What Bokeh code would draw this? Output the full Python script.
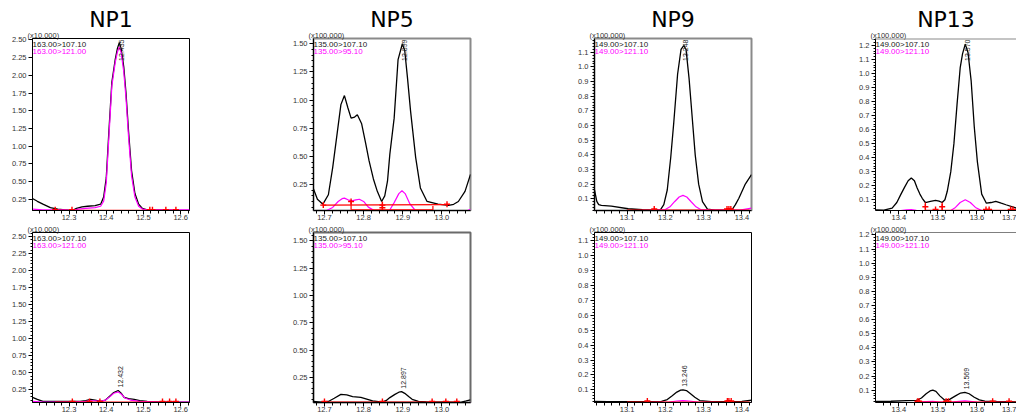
import math

from bokeh.core.properties import value
from bokeh.embed import file_html
from bokeh.layouts import gridplot
from bokeh.models import (NumeralTickFormatter, Range1d, SingleIntervalTicker,
                          Span, Title)
from bokeh.plotting import figure
from bokeh.resources import INLINE

# ---------------------------------------------------------------- samples
samples = ["NP1", "NP5", "NP9", "NP13"]
scale_texts = ["(x10,000)", "(x100,000)", "(x100,000)", "(x100,000)"]
quant_ions = ["163.00>107.10", "135.00>107.10", "149.00>107.10", "149.00>107.10"]
qual_ions = ["163.00>121.00", "135.00>95.10", "149.00>121.10", "149.00>121.10"]

# retention-time windows (min) and intensity windows
rt_windows = [(12.202, 12.6235), (12.672, 13.073), (13.015, 13.425), (13.3405, 13.701)]
int_windows_top = [(0.09, 2.52), (0.02, 1.547), (0.02, 1.194), (0.023, 1.25)]
int_windows_bottom = [(0.064, 2.56), (0.021, 1.576), (0.015, 1.156), (0.013, 1.217)]
int_steps = [0.25, 0.25, 0.1, 0.1]
int_formats = ["0.00", "0.00", "0.0", "0.0"]

# labelled peak retention times
peak_rt_top = [12.435, 12.899, 13.248, 13.570]
peak_rt_bottom = [12.432, 12.897, 13.246, 13.569]

# ---------------------------------------------------------------- NP1
np1_top_q_t = [12.202, 12.215, 12.230, 12.250, 12.270, 12.290, 12.309, 12.320, 12.335, 12.350,
               12.370, 12.385, 12.393, 12.400, 12.407, 12.415, 12.424, 12.430, 12.435, 12.440,
               12.447, 12.453, 12.460, 12.468, 12.477, 12.487, 12.497, 12.510, 12.530, 12.560,
               12.600, 12.624]
np1_top_q_i = [0.26, 0.22, 0.18, 0.13, 0.11, 0.10, 0.09, 0.12, 0.14, 0.15,
               0.16, 0.18, 0.28, 0.55, 1.20, 1.90, 2.22, 2.38, 2.46, 2.38,
               2.12, 1.75, 1.20, 0.65, 0.33, 0.18, 0.12, 0.10, 0.10, 0.10,
               0.09, 0.09]
np1_top_c_t = [12.202, 12.230, 12.260, 12.290, 12.309, 12.325, 12.345, 12.370, 12.385, 12.393,
               12.400, 12.407, 12.415, 12.424, 12.430, 12.435, 12.440, 12.447, 12.453, 12.460,
               12.468, 12.477, 12.487, 12.497, 12.510, 12.560, 12.624]
np1_top_c_i = [0.11, 0.10, 0.10, 0.10, 0.09, 0.11, 0.12, 0.13, 0.15, 0.22,
               0.48, 1.12, 1.85, 2.18, 2.33, 2.40, 2.32, 2.05, 1.68, 1.12,
               0.58, 0.28, 0.15, 0.11, 0.10, 0.10, 0.10]
np1_top_base_t = [12.263, 12.590]
np1_top_base_i = [0.092, 0.092]
np1_top_mark_t = [12.263, 12.308, 12.517, 12.524, 12.560, 12.587]
np1_top_mark_i = [0.10, 0.10, 0.10, 0.10, 0.10, 0.10]

np1_bot_q_t = [12.202, 12.215, 12.230, 12.260, 12.300, 12.330, 12.345, 12.358, 12.370, 12.385,
               12.398, 12.410, 12.420, 12.432, 12.440, 12.448, 12.460, 12.475, 12.490, 12.510,
               12.550, 12.600, 12.624]
np1_bot_q_i = [0.14, 0.11, 0.08, 0.08, 0.08, 0.08, 0.09, 0.11, 0.10, 0.08,
               0.10, 0.16, 0.21, 0.24, 0.20, 0.14, 0.12, 0.11, 0.09, 0.08,
               0.07, 0.07, 0.07]
np1_bot_c_t = [12.202, 12.230, 12.300, 12.345, 12.358, 12.372, 12.385, 12.398, 12.410, 12.420,
               12.432, 12.440, 12.450, 12.465, 12.490, 12.550, 12.624]
np1_bot_c_i = [0.08, 0.07, 0.07, 0.08, 0.09, 0.09, 0.08, 0.10, 0.15, 0.20,
               0.22, 0.19, 0.13, 0.10, 0.08, 0.07, 0.07]
np1_bot_base_t = [12.263, 12.590]
np1_bot_base_i = [0.07, 0.07]
np1_bot_mark_t = [12.309, 12.355, 12.383, 12.551, 12.570, 12.587]
np1_bot_mark_i = [0.08, 0.08, 0.08, 0.08, 0.08, 0.08]

# ---------------------------------------------------------------- NP5
np5_top_q_t = [12.672, 12.682, 12.696, 12.710, 12.721, 12.733, 12.742, 12.751, 12.760, 12.768,
               12.777, 12.784, 12.795, 12.805, 12.814, 12.825, 12.835, 12.846, 12.854, 12.861,
               12.867, 12.878, 12.888, 12.899, 12.905, 12.912, 12.920, 12.933, 12.945, 12.962,
               12.990, 13.017, 13.030, 13.042, 13.059, 13.073]
np5_top_q_i = [0.21, 0.12, 0.076, 0.16, 0.40, 0.72, 0.96, 1.04, 0.93, 0.84,
               0.85, 0.87, 0.79, 0.62, 0.46, 0.30, 0.19, 0.10, 0.15, 0.28,
               0.52, 0.84, 1.36, 1.50, 1.44, 1.20, 0.90, 0.49, 0.22, 0.10,
               0.076, 0.065, 0.075, 0.10, 0.19, 0.34]
np5_top_c_t = [12.672, 12.700, 12.721, 12.735, 12.745, 12.751, 12.760, 12.770, 12.780, 12.789,
               12.800, 12.812, 12.827, 12.850, 12.866, 12.878, 12.890, 12.898, 12.906, 12.918,
               12.932, 12.960, 13.000, 13.040, 13.060, 13.073]
np5_top_c_i = [0.02, 0.01, 0.047, 0.10, 0.125, 0.13, 0.115, 0.105, 0.115, 0.12,
               0.10, 0.05, 0.02, 0.00, 0.02, 0.09, 0.17, 0.195, 0.17, 0.08,
               0.02, 0.00, 0.00, 0.00, 0.01, 0.03]
np5_top_base_t = [12.697, 13.013]
np5_top_base_i = [0.068, 0.072]
np5_top_base2_t = [12.768, 12.977]
np5_top_base2_i = [0.026, 0.026]
np5_top_drop_t = [12.768, 12.848, 12.977]
np5_top_drop_lo = [0.026, 0.026, 0.0]
np5_top_drop_hi = [0.11, 0.10, 0.06]
np5_top_mark_t = [12.697, 12.768, 12.848, 12.848, 13.013]
np5_top_mark_i = [0.068, 0.10, 0.068, 0.045, 0.075]

np5_bot_q_t = [12.672, 12.690, 12.710, 12.725, 12.742, 12.757, 12.772, 12.793, 12.810, 12.823,
               12.848, 12.858, 12.867, 12.880, 12.890, 12.897, 12.905, 12.915, 12.924, 12.940,
               12.960, 13.000, 13.034, 13.050, 13.062, 13.073]
np5_bot_q_i = [0.03, 0.025, 0.03, 0.06, 0.095, 0.09, 0.075, 0.068, 0.05, 0.035,
               0.025, 0.04, 0.066, 0.095, 0.115, 0.12, 0.105, 0.075, 0.05, 0.032,
               0.027, 0.025, 0.022, 0.025, 0.035, 0.045]
np5_bot_c_t = [12.672, 12.720, 12.750, 12.790, 12.850, 12.897, 12.950, 13.000, 13.073]
np5_bot_c_i = [0.015, 0.017, 0.02, 0.018, 0.015, 0.018, 0.015, 0.014, 0.02]
np5_bot_base_t = [12.700, 13.040]
np5_bot_base_i = [0.024, 0.024]
np5_bot_mark_t = [12.700, 12.848, 12.975, 13.010, 13.038]
np5_bot_mark_i = [0.03, 0.03, 0.03, 0.03, 0.03]

# ---------------------------------------------------------------- NP9
np9_top_q_t = [13.015, 13.021, 13.026, 13.033, 13.059, 13.103, 13.140, 13.170, 13.187, 13.196,
               13.205, 13.214, 13.222, 13.232, 13.241, 13.248, 13.254, 13.262, 13.270, 13.278,
               13.287, 13.297, 13.310, 13.330, 13.350, 13.374, 13.383, 13.392, 13.408, 13.425]
np9_top_q_i = [0.16, 0.082, 0.06, 0.055, 0.05, 0.032, 0.025, 0.022, 0.025, 0.06,
               0.16, 0.38, 0.62, 0.95, 1.12, 1.146, 1.12, 0.92, 0.66, 0.40,
               0.20, 0.08, 0.03, 0.022, 0.022, 0.025, 0.06, 0.104, 0.196, 0.265]
np9_top_c_t = [13.015, 13.060, 13.120, 13.180, 13.200, 13.212, 13.224, 13.236, 13.246, 13.256,
               13.268, 13.280, 13.292, 13.320, 13.370, 13.395, 13.425]
np9_top_c_i = [0.02, 0.02, 0.02, 0.022, 0.027, 0.045, 0.08, 0.112, 0.123, 0.112,
               0.078, 0.045, 0.027, 0.022, 0.022, 0.022, 0.036]
np9_top_base_t = [13.100, 13.420]
np9_top_base_i = [0.022, 0.022]
np9_top_mark_t = [13.171, 13.361, 13.366, 13.371]
np9_top_mark_i = [0.03, 0.03, 0.03, 0.03]

np9_bot_q_t = [13.015, 13.050, 13.100, 13.150, 13.190, 13.205, 13.218, 13.230, 13.240, 13.246,
               13.255, 13.265, 13.277, 13.290, 13.320, 13.370, 13.400, 13.425]
np9_bot_q_i = [0.022, 0.02, 0.02, 0.02, 0.022, 0.035, 0.06, 0.085, 0.098, 0.10,
               0.095, 0.075, 0.05, 0.028, 0.02, 0.02, 0.022, 0.03]
np9_bot_c_t = [13.015, 13.150, 13.210, 13.230, 13.246, 13.262, 13.285, 13.350, 13.425]
np9_bot_c_i = [0.015, 0.015, 0.018, 0.025, 0.028, 0.025, 0.018, 0.015, 0.015]
np9_bot_base_t = [13.100, 13.420]
np9_bot_base_i = [0.017, 0.017]
np9_bot_mark_t = [13.153, 13.362, 13.366, 13.372]
np9_bot_mark_i = [0.025, 0.025, 0.025, 0.025]

# ---------------------------------------------------------------- NP13
np13_top_q_t = [13.3405, 13.362, 13.383, 13.395, 13.405, 13.415, 13.424, 13.432, 13.440, 13.447,
                13.454, 13.460, 13.468, 13.481, 13.494, 13.503, 13.511, 13.518, 13.524, 13.533,
                13.541, 13.549, 13.557, 13.563, 13.570, 13.577, 13.585, 13.593, 13.601, 13.612,
                13.624, 13.636, 13.648, 13.662, 13.674, 13.701]
np13_top_q_i = [0.028, 0.025, 0.04, 0.08, 0.136, 0.19, 0.235, 0.255, 0.235, 0.183,
                0.14, 0.11, 0.08, 0.088, 0.095, 0.09, 0.08, 0.10, 0.16, 0.30,
                0.50, 0.78, 1.04, 1.14, 1.21, 1.15, 0.95, 0.62, 0.37, 0.14,
                0.075, 0.08, 0.088, 0.075, 0.064, 0.04]
np13_top_c_t = [13.3405, 13.400, 13.420, 13.432, 13.445, 13.480, 13.532, 13.545, 13.557, 13.570,
                13.583, 13.596, 13.612, 13.640, 13.701]
np13_top_c_i = [0.02, 0.02, 0.027, 0.03, 0.024, 0.02, 0.022, 0.045, 0.08, 0.10,
                0.08, 0.045, 0.022, 0.02, 0.02]
np13_top_base_t = [13.468, 13.701]
np13_top_base_i = [0.024, 0.024]
np13_top_drop_t = [13.468, 13.511]
np13_top_drop_lo = [0.024, 0.024]
np13_top_drop_hi = [0.08, 0.08]
np13_top_mark_t = [13.468, 13.494, 13.511, 13.623, 13.631, 13.686, 13.692]
np13_top_mark_i = [0.05, 0.03, 0.05, 0.03, 0.03, 0.03, 0.03]

np13_bot_q_t = [13.3405, 13.380, 13.420, 13.445, 13.458, 13.470, 13.480, 13.487, 13.495, 13.505,
                13.517, 13.530, 13.545, 13.558, 13.569, 13.580, 13.593, 13.606, 13.620, 13.650,
                13.701]
np13_bot_q_i = [0.02, 0.022, 0.026, 0.028, 0.045, 0.075, 0.095, 0.10, 0.092, 0.06,
                0.03, 0.035, 0.06, 0.08, 0.085, 0.075, 0.05, 0.032, 0.022, 0.02,
                0.018]
np13_bot_c_t = [13.3405, 13.440, 13.470, 13.487, 13.505, 13.540, 13.569, 13.600, 13.701]
np13_bot_c_i = [0.012, 0.014, 0.02, 0.022, 0.016, 0.018, 0.024, 0.016, 0.012]
np13_bot_base_t = [13.445, 13.701]
np13_bot_base_i = [0.016, 0.016]
np13_bot_mark_t = [13.448, 13.452, 13.521, 13.527, 13.640, 13.682]
np13_bot_mark_i = [0.022, 0.022, 0.022, 0.022, 0.022, 0.022]

# ---------------------------------------------------------------- panel table
panels_top = [
    dict(q=(np1_top_q_t, np1_top_q_i), c=(np1_top_c_t, np1_top_c_i),
         base=[(np1_top_base_t, np1_top_base_i)], drops=None,
         marks=(np1_top_mark_t, np1_top_mark_i)),
    dict(q=(np5_top_q_t, np5_top_q_i), c=(np5_top_c_t, np5_top_c_i),
         base=[(np5_top_base_t, np5_top_base_i), (np5_top_base2_t, np5_top_base2_i)],
         drops=(np5_top_drop_t, np5_top_drop_lo, np5_top_drop_hi),
         marks=(np5_top_mark_t, np5_top_mark_i)),
    dict(q=(np9_top_q_t, np9_top_q_i), c=(np9_top_c_t, np9_top_c_i),
         base=[(np9_top_base_t, np9_top_base_i)], drops=None,
         marks=(np9_top_mark_t, np9_top_mark_i)),
    dict(q=(np13_top_q_t, np13_top_q_i), c=(np13_top_c_t, np13_top_c_i),
         base=[(np13_top_base_t, np13_top_base_i)],
         drops=(np13_top_drop_t, np13_top_drop_lo, np13_top_drop_hi),
         marks=(np13_top_mark_t, np13_top_mark_i)),
]
panels_bottom = [
    dict(q=(np1_bot_q_t, np1_bot_q_i), c=(np1_bot_c_t, np1_bot_c_i),
         base=[(np1_bot_base_t, np1_bot_base_i)], drops=None,
         marks=(np1_bot_mark_t, np1_bot_mark_i)),
    dict(q=(np5_bot_q_t, np5_bot_q_i), c=(np5_bot_c_t, np5_bot_c_i),
         base=[(np5_bot_base_t, np5_bot_base_i)], drops=None,
         marks=(np5_bot_mark_t, np5_bot_mark_i)),
    dict(q=(np9_bot_q_t, np9_bot_q_i), c=(np9_bot_c_t, np9_bot_c_i),
         base=[(np9_bot_base_t, np9_bot_base_i)], drops=None,
         marks=(np9_bot_mark_t, np9_bot_mark_i)),
    dict(q=(np13_bot_q_t, np13_bot_q_i), c=(np13_bot_c_t, np13_bot_c_i),
         base=[(np13_bot_base_t, np13_bot_base_i)], drops=None,
         marks=(np13_bot_mark_t, np13_bot_mark_i)),
]

# frame border colour / width per (column, row)
frame_style = {
    (0, 0): ("black", 1), (0, 1): ("black", 1),
    (1, 0): ("#8a8a8a", 2), (1, 1): ("#6a6a6a", 2),
    (2, 0): ("#8a8a8a", 2), (2, 1): ("black", 1),
    (3, 0): ("#8a8a8a", 2), (3, 1): ("black", 1),
}

TICK_FONT = "Liberation Sans"
TOP_H = 222
BOTTOM_H = 414 - TOP_H


def style_axes(p, step, fmt, y_minor):
    p.xgrid.visible = False
    p.ygrid.visible = False
    p.xaxis.ticker = SingleIntervalTicker(interval=0.1, num_minor_ticks=5)
    p.xaxis.formatter = NumeralTickFormatter(format="0.0")
    p.yaxis.ticker = SingleIntervalTicker(interval=step, num_minor_ticks=5 if y_minor else 0)
    p.yaxis.formatter = NumeralTickFormatter(format=fmt)
    for ax in (p.xaxis[0], p.yaxis[0]):
        ax.axis_line_color = "black"
        ax.axis_line_width = 1
        ax.major_tick_line_color = "black"
        ax.minor_tick_line_color = "black"
        ax.major_tick_in = 0
        ax.major_tick_out = 4
        ax.minor_tick_in = 0
        ax.minor_tick_out = 2
        ax.major_label_text_font = TICK_FONT
        ax.major_label_text_font_size = "7.5px"
        ax.major_label_text_color = "#333333"
    p.xaxis.minor_tick_out = 3
    p.xaxis.major_label_standoff = 0
    p.yaxis.major_label_standoff = 2


def make_panel(col, row):
    last = col == 3
    data = (panels_top if row == 0 else panels_bottom)[col]
    y0, y1 = (int_windows_top if row == 0 else int_windows_bottom)[col]
    x0, x1 = rt_windows[col]
    p = figure(
        width=1016 - 3 * 281 if last else 281,
        height=TOP_H if row == 0 else BOTTOM_H,
        x_range=Range1d(x0, x1), y_range=Range1d(y0, y1),
        output_backend="svg", toolbar_location=None,
        min_border_left=32, min_border_right=0 if last else 92,
        min_border_top=38 if row == 0 else 10, min_border_bottom=0,
        title_location=None,
    )
    p.background_fill_color = "white"
    p.border_fill_color = "white"
    style_axes(p, int_steps[col], int_formats[col], not (col == 0 and row == 0))

    color, lw = frame_style[(col, row)]
    if last:
        p.outline_line_color = None
        p.add_layout(Span(location=y1, dimension="width", line_color=color, line_width=lw))
    else:
        p.outline_line_color = color
        p.outline_line_width = lw

    # scale factor above the intensity axis (a compact strip, so the sample
    # name can sit close to it), then the sample name on top
    p.add_layout(Title(text=scale_texts[col], align="left", offset=-5, standoff=-4,
                       vertical_align="middle",
                       text_font=TICK_FONT, text_font_size="7.5px",
                       text_font_style="normal", text_color="#333333"), "above")
    if row == 0:
        p.add_layout(Title(text=samples[col], align="center", offset=8 if last else 0,
                           standoff=0, text_font="DejaVu Sans", text_font_size="22px",
                           text_font_style="normal", text_color="black"), "above")

    # chromatogram traces
    qt, qi = data["q"]
    ct, ci = data["c"]
    p.line(qt, qi, line_color="black", line_width=1.3)
    p.line(ct, ci, line_color="#ff00ff", line_width=1.2)

    # integration baselines and peak start/end marks
    for bt, bi in data["base"]:
        p.line(bt, bi, line_color="red", line_width=1.2)
    if data["drops"] is not None:
        dt, dlo, dhi = data["drops"]
        p.segment(x0=dt, y0=dlo, x1=dt, y1=dhi, line_color="red", line_width=1.2)
    mt, mi = data["marks"]
    p.scatter(mt, mi, marker="cross", size=6, line_color="red", line_width=1.4)

    # transition legend
    p.text(x=[x0], y=[y1], text=[quant_ions[col]], text_font=value(TICK_FONT),
           text_font_size="8px", text_color="#222222", text_align="left",
           text_baseline="top", y_offset=1)
    p.text(x=[x0], y=[y1], text=[qual_ions[col]], text_font=value(TICK_FONT),
           text_font_size="8px", text_color="#ff00ff", text_align="left",
           text_baseline="top", y_offset=8)

    # retention-time label of the quantified peak
    if row == 0:
        rt = peak_rt_top[col]
        p.text(x=[rt], y=[y1], text=[f"{rt:.3f}"], angle=math.pi / 2,
               text_font=value(TICK_FONT), text_font_size="7px", text_color="#222222",
               text_align="right", text_baseline="middle", x_offset=2, y_offset=1)
    else:
        rt = peak_rt_bottom[col]
        h = qi[qt.index(rt)]
        p.text(x=[rt], y=[h], text=[f"{rt:.3f}"], angle=math.pi / 2,
               text_font=value(TICK_FONT), text_font_size="7px", text_color="#222222",
               text_align="left", text_baseline="middle", x_offset=2, y_offset=-3)
    return p


grid = gridplot([[make_panel(c, 0) for c in range(4)],
                 [make_panel(c, 1) for c in range(4)]],
                toolbar_location=None)

open("out.html", "w").write(file_html(grid, INLINE))
